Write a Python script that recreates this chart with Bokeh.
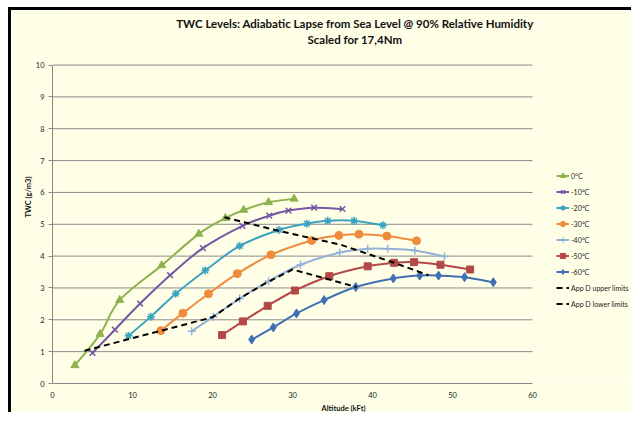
import numpy as np
from bokeh.plotting import figure
from bokeh.models import Legend, LegendItem, Label, FixedTicker, Range1d
from bokeh.embed import file_html
from bokeh.resources import INLINE

title_1 = "TWC Levels: Adiabatic Lapse from Sea Level @ 90% Relative Humidity"
title_2 = "Scaled for 17,4Nm"
x_label = "Altitude (kFt)"
y_label = "TWC (g/m3)"
x_ticks = [0, 10, 20, 30, 40, 50, 60]
y_ticks = [0, 1, 2, 3, 4, 5, 6, 7, 8, 9, 10]

names = ["0°C", "-10°C", "-20°C", "-30°C", "-40°C", "-50°C", "-60°C"]
alt_0 = [2.8, 5.95, 8.4, 13.65, 18.3, 21.6, 23.9, 27.0, 30.2]
twc_0 = [0.57, 1.55, 2.62, 3.71, 4.70, 5.19, 5.45, 5.69, 5.80]
alt_m10 = [5.0, 7.8, 10.95, 14.7, 18.8, 23.75, 27.1, 29.5, 32.7, 36.25]
twc_m10 = [0.96, 1.69, 2.51, 3.40, 4.25, 4.95, 5.27, 5.43, 5.52, 5.48]
alt_m20 = [9.5, 12.3, 15.4, 19.1, 23.4, 28.3, 31.8, 34.4, 37.7, 41.3]
twc_m20 = [1.50, 2.10, 2.82, 3.55, 4.32, 4.82, 5.02, 5.11, 5.11, 4.97]
alt_m30 = [13.55, 16.3, 19.5, 23.1, 27.3, 32.4, 35.8, 38.3, 41.8, 45.5]
twc_m30 = [1.66, 2.21, 2.82, 3.45, 4.04, 4.49, 4.65, 4.69, 4.63, 4.48]
alt_m40 = [17.4, 20.1, 23.4, 27.0, 31.0, 35.9, 39.4, 41.9, 45.3, 49.0]
twc_m40 = [1.64, 2.10, 2.67, 3.21, 3.73, 4.11, 4.23, 4.23, 4.18, 3.99]
alt_m50 = [21.2, 23.8, 26.9, 30.3, 34.6, 39.4, 42.7, 45.2, 48.5, 52.2]
twc_m50 = [1.52, 1.95, 2.44, 2.92, 3.37, 3.68, 3.79, 3.81, 3.73, 3.58]
alt_m60 = [24.9, 27.6, 30.5, 33.95, 37.9, 42.6, 45.9, 48.25, 51.5, 55.1]
twc_m60 = [1.38, 1.76, 2.20, 2.62, 3.03, 3.30, 3.39, 3.39, 3.34, 3.18]
upper_name = "App D upper limits"
upper_alt = [21.5, 28.5, 36.0, 42.7, 47.0]
upper_twc = [5.22, 4.78, 4.36, 3.79, 3.40]
lower_name = "App D lower limits"
lower_alt = [4.0, 20.0, 23.5, 27.0, 30.0, 38.0]
lower_twc = [1.03, 2.08, 2.69, 3.20, 3.58, 3.03]

series = [
    (alt_0, twc_0, "#8DB24E", "triangle", 8),
    (alt_m10, twc_m10, "#7557A3", "x", 8),
    (alt_m20, twc_m20, "#3CA3BF", "asterisk", 8),
    (alt_m30, twc_m30, "#EE8B3C", "circle", 8),
    (alt_m40, twc_m40, "#93B0DA", "cross", 8),
    (alt_m50, twc_m50, "#B44847", "square", 7),
    (alt_m60, twc_m60, "#3F70B3", "diamond", 9),
]

BG = "#FFFFE8"
FONT = "Lato"
GRID = "#8A8A8A"

# canvas / frame geometry (pixels)
W, H = 623, 405
TOP_OFFSET = 10            # canvas top in the page picture
LEFT, BOTTOM = 41, 29
PX_X, PX_Y = 8.0, 32.1
x_end = (W - LEFT) / PX_X
y_end = (H - BOTTOM) / PX_Y
FRAME_BOTTOM = TOP_OFFSET + H - BOTTOM

p = figure(width=W, height=H, output_backend="svg", toolbar_location=None,
           x_range=Range1d(0, x_end), y_range=Range1d(0, y_end),
           min_border_left=LEFT, min_border_right=0, min_border_top=0, min_border_bottom=BOTTOM)
p.styles = {"margin-left": "8px", "margin-top": "7px",
            "border-left": "3px solid black", "border-top": "3px solid black"}
p.background_fill_color = BG
p.border_fill_color = BG
p.outline_line_color = None
p.xgrid.visible = False
p.ygrid.visible = False
p.xaxis.ticker = FixedTicker(ticks=x_ticks)
p.yaxis.ticker = FixedTicker(ticks=y_ticks)
p.xaxis.bounds = (x_ticks[0], x_ticks[-1])
p.yaxis.bounds = (y_ticks[0], y_ticks[-1])
for ax in (p.xaxis, p.yaxis):
    ax.axis_line_color = GRID
    ax.major_tick_line_color = GRID
    ax.minor_tick_line_color = None
    ax.major_tick_in = 0
    ax.major_label_text_font = FONT
    ax.major_label_text_font_size = "7.5px"
    ax.major_label_text_color = "#222222"
    ax.axis_label_text_font = FONT
    ax.axis_label_text_font_size = "7.5px"
    ax.axis_label_text_font_style = "bold"
    ax.axis_label_text_color = "#111111"
p.xaxis.major_tick_out = 0
p.xaxis.major_label_standoff = 8
p.xaxis.axis_label_standoff = 3
p.yaxis.major_tick_out = 4
p.yaxis.major_label_standoff = 4
p.yaxis.axis_label_standoff = 0
p.xaxis.axis_label = x_label
p.yaxis.axis_label = y_label

# horizontal gridlines over the plot area only
gy = y_ticks[1:]
p.segment(x0=[x_ticks[0]] * len(gy), x1=[x_ticks[-1]] * len(gy), y0=gy, y1=gy,
          line_color=GRID, line_width=1)


def smooth_controls(xs, ys):
    xs = np.asarray(xs, float)
    ys = np.asarray(ys, float)
    n = len(xs)
    x0, y0, x1, y1, cx0, cy0, cx1, cy1 = [], [], [], [], [], [], [], []
    for i in range(n - 1):
        im = max(i - 1, 0)
        ip = min(i + 2, n - 1)
        x0.append(xs[i]); y0.append(ys[i])
        x1.append(xs[i + 1]); y1.append(ys[i + 1])
        cx0.append(xs[i] + (xs[i + 1] - xs[im]) / 6.0)
        cy0.append(ys[i] + (ys[i + 1] - ys[im]) / 6.0)
        cx1.append(xs[i + 1] - (xs[ip] - xs[i]) / 6.0)
        cy1.append(ys[i + 1] - (ys[ip] - ys[i]) / 6.0)
    return dict(x0=x0, y0=y0, x1=x1, y1=y1, cx0=cx0, cy0=cy0, cx1=cx1, cy1=cy1)


items = []
for (xs, ys, col, mk, sz), nm in zip(series, names):
    br = p.bezier(source=smooth_controls(xs, ys), x0="x0", y0="y0", x1="x1", y1="y1",
                  cx0="cx0", cy0="cy0", cx1="cx1", cy1="cy1", line_color=col, line_width=2)
    if mk in ("x", "asterisk", "cross"):
        sr = p.scatter(xs, ys, marker=mk, size=sz, line_color=col, line_width=1.5, fill_color=col)
    else:
        sr = p.scatter(xs, ys, marker=mk, size=sz, line_color=col, fill_color=col)
    items.append(LegendItem(label=nm, renderers=[br, sr]))

ru = p.line(upper_alt, upper_twc, line_color="black", line_width=2, line_dash="6 4")
rl = p.line(lower_alt, lower_twc, line_color="black", line_width=2, line_dash="6 4")
items.append(LegendItem(label=upper_name, renderers=[ru]))
items.append(LegendItem(label=lower_name, renderers=[rl]))

legend = Legend(items=items, location=(504, 73), padding=0, margin=0, spacing=3,
                glyph_width=13, glyph_height=13, label_height=13, label_standoff=2,
                label_text_font=FONT, label_text_font_size="7px", label_text_color="#222222",
                background_fill_alpha=0, border_line_color=None)
p.add_layout(legend, "center")

title_x = 37.8
p.add_layout(Label(x=title_x, y=(FRAME_BOTTOM - 23) / PX_Y,
                   text=title_1, text_font=FONT, text_font_size="11.5px", text_font_style="bold",
                   text_align="center", text_baseline="middle", text_color="#111111"))
p.add_layout(Label(x=title_x, y=(FRAME_BOTTOM - 39) / PX_Y,
                   text=title_2, text_font=FONT, text_font_size="11.5px", text_font_style="bold",
                   text_align="center", text_baseline="middle", text_color="#111111"))

open("out.html", "w").write(file_html(p, INLINE))
